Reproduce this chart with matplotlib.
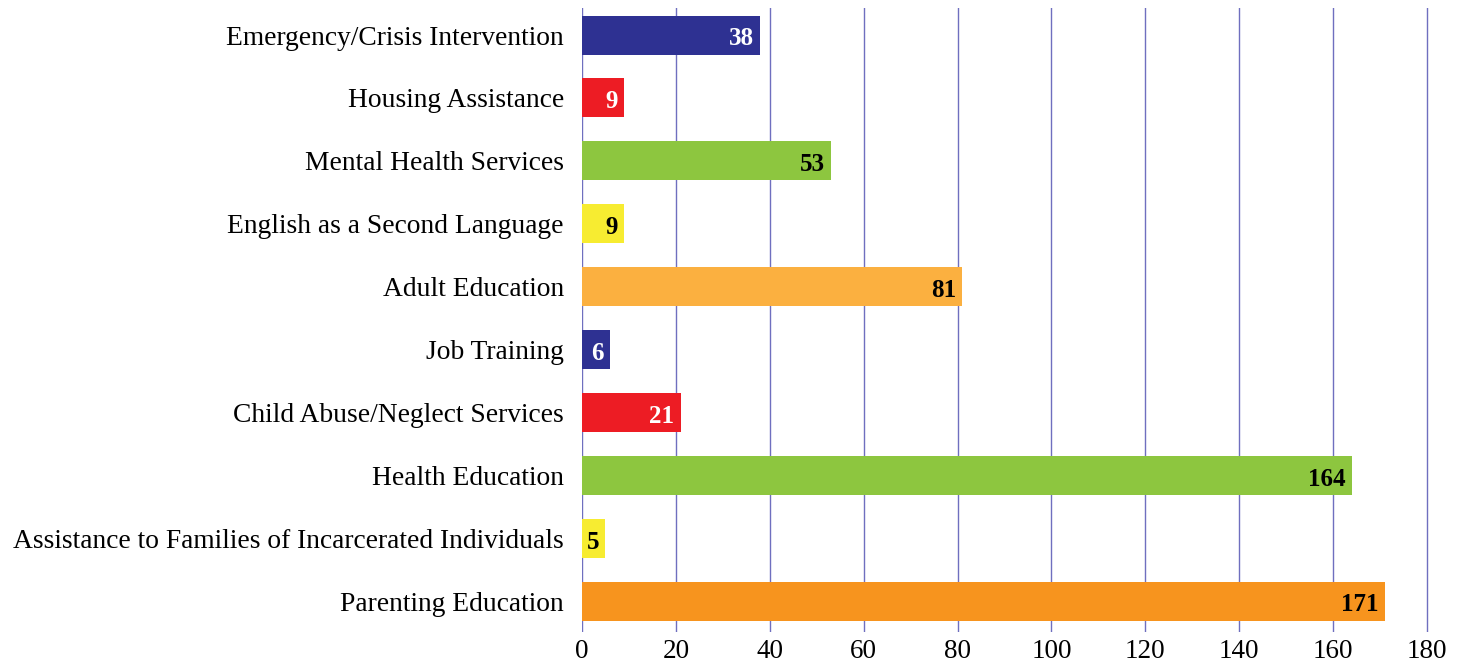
import matplotlib
matplotlib.use("Agg")
import matplotlib.pyplot as plt

categories = [
    "Emergency/Crisis Intervention",
    "Housing Assistance",
    "Mental Health Services",
    "English as a Second Language",
    "Adult Education",
    "Job Training",
    "Child Abuse/Neglect Services",
    "Health Education",
    "Assistance to Families of Incarcerated Individuals",
    "Parenting Education",
]
values = [38, 9, 53, 9, 81, 6, 21, 164, 5, 171]
colors = ["#2E3192", "#ED1C24", "#8DC63F", "#F7EC31", "#FBB040",
          "#2E3192", "#ED1C24", "#8DC63F", "#F7EC31", "#F7941E"]
label_colors = ["white", "white", "black", "black", "black",
                "white", "white", "black", "black", "black"]
xticks = [0, 20, 40, 60, 80, 100, 120, 140, 160, 180]

plt.rcParams['font.family'] = ['Liberation Serif', 'DejaVu Serif']

fig = plt.figure(figsize=(14.63, 6.66), dpi=100)
x0, x180 = 582, 1427
unit = (x180 - x0) / 180
ax = fig.add_axes([x0/1463, 1-632/666, (x180 + 3*unit - x0)/1463, (632-8)/666])

y = list(range(len(categories)))
ax.barh(y, values, height=0.62, color=colors, zorder=3)
for yi, v, lc in zip(y, values, label_colors):
    ax.text(v - 1.3, yi + 0.02, str(v), ha="right", va="center_baseline", color=lc,
            fontsize=18, fontweight="bold", zorder=4)

ax.set_xlim(0, 183)
ax.set_ylim(9.49, -0.43)
ax.set_yticks(y)
ax.set_yticklabels(categories, fontsize=19.8)
ax.set_xticks(xticks)
ax.set_xticklabels([str(t) for t in xticks], fontsize=19.5)
ax.tick_params(axis="both", length=0)
ax.tick_params(axis="y", pad=13)
ax.tick_params(axis="x", pad=5)
ax.grid(axis="x", color="#6F6FBF", linewidth=1.0, zorder=0)
for s in ax.spines.values():
    s.set_visible(False)

fig.savefig("out.png", dpi=100)
